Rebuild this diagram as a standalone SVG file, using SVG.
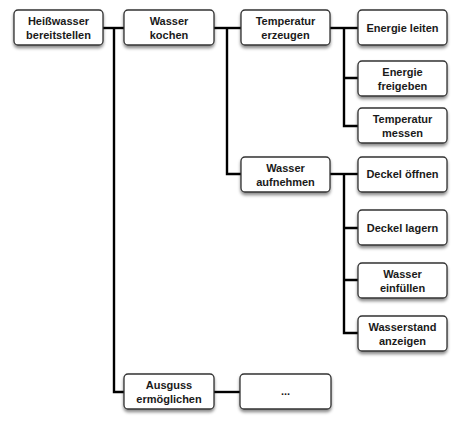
<svg xmlns="http://www.w3.org/2000/svg" width="459" height="424" viewBox="0 0 459 424">
<defs>
<filter id="sh" x="-20%" y="-20%" width="140%" height="160%">
<feDropShadow dx="0" dy="2.5" stdDeviation="1.8" flood-color="#000" flood-opacity="0.45"/>
</filter>
<style>
.n rect{fill:#fff;stroke:#333;stroke-width:1.3;filter:url(#sh)}
.n text{font-family:"Liberation Sans",Arial,sans-serif;font-weight:bold;font-size:11px;fill:#1a1a1a;text-anchor:middle}
.c path{fill:none;stroke:#000;stroke-width:2.4}
</style>
</defs>
<rect width="459" height="424" fill="#fff"/>
<g class="c">
<path d="M103 28H124"/>
<path d="M114 28V392H124"/>
<path d="M214 28H241"/>
<path d="M227 28V174H241"/>
<path d="M330 28H358"/>
<path d="M344 28V126H358M344 78H358"/>
<path d="M330 174H358"/>
<path d="M344 174V333H358M344 228H358M344 280H358"/>
<path d="M214 392H240"/>
</g>
<g id="n1" class="n"><rect x="14" y="10" width="89" height="35" rx="4"/><text x="58.5" y="25">Heißwasser</text><text x="58.5" y="38.5">bereitstellen</text></g>
<g id="n2" class="n"><rect x="124" y="10" width="90" height="35" rx="4"/><text x="169" y="25">Wasser</text><text x="169" y="38.5">kochen</text></g>
<g id="n3" class="n"><rect x="241" y="10" width="89" height="35" rx="4"/><text x="285.5" y="25">Temperatur</text><text x="285.5" y="38.5">erzeugen</text></g>
<g id="n4" class="n"><rect x="358" y="10" width="89" height="35" rx="4"/><text x="402.5" y="32">Energie leiten</text></g>
<g id="n5" class="n"><rect x="358" y="61" width="89" height="35" rx="4"/><text x="402.5" y="76">Energie</text><text x="402.5" y="89.5">freigeben</text></g>
<g id="n6" class="n"><rect x="358" y="108" width="89" height="35" rx="4"/><text x="402.5" y="123">Temperatur</text><text x="402.5" y="136.5">messen</text></g>
<g id="n7" class="n"><rect x="241" y="157" width="89" height="35" rx="4"/><text x="285.5" y="172">Wasser</text><text x="285.5" y="185.5">aufnehmen</text></g>
<g id="n8" class="n"><rect x="358" y="157" width="89" height="35" rx="4"/><text x="402.5" y="178">Deckel öffnen</text></g>
<g id="n9" class="n"><rect x="358" y="210" width="89" height="35" rx="4"/><text x="402.5" y="231.5">Deckel lagern</text></g>
<g id="n10" class="n"><rect x="358" y="263" width="89" height="35" rx="4"/><text x="402.5" y="278">Wasser</text><text x="402.5" y="291.5">einfüllen</text></g>
<g id="n11" class="n"><rect x="358" y="316" width="89" height="35" rx="4"/><text x="402.5" y="331">Wasserstand</text><text x="402.5" y="344.5">anzeigen</text></g>
<g id="n12" class="n"><rect x="124" y="374" width="90" height="35" rx="4"/><text x="169" y="389">Ausguss</text><text x="169" y="402.5">ermöglichen</text></g>
<g id="n13" class="n"><rect x="240" y="374" width="91" height="35" rx="4"/><text x="285.5" y="395">...</text></g>
</svg>
